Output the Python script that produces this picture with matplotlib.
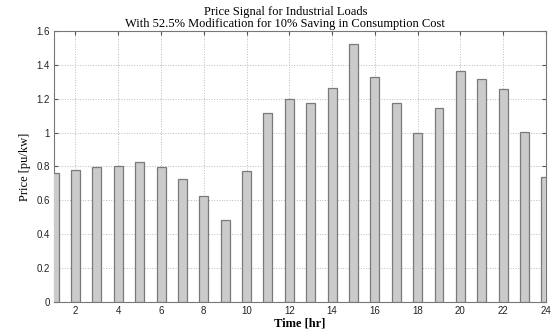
import matplotlib
matplotlib.use("Agg")
import matplotlib.pyplot as plt

hours = list(range(1, 25))
price = [0.76, 0.78, 0.795, 0.805, 0.827, 0.795, 0.725, 0.623, 0.485, 0.775,
         1.115, 1.197, 1.173, 1.262, 1.523, 1.33, 1.173, 0.997, 1.144, 1.366,
         1.318, 1.259, 1.002, 0.74]
xticks = list(range(2, 25, 2))
yticks = [0, 0.2, 0.4, 0.6, 0.8, 1, 1.2, 1.4, 1.6]
ytick_labels = ["0", "0.2", "0.4", "0.6", "0.8", "1", "1.2", "1.4", "1.6"]

fig = plt.figure(figsize=(5.52, 3.3), dpi=100)
ax = fig.add_axes([0.098, 0.085, 0.891, 0.821])

ax.bar(hours, price, width=0.42, color="#cbcbcb", edgecolor="#7a7a7a", linewidth=0.9, zorder=3)

ax.set_xlim(1, 24)
ax.set_ylim(0, 1.6)
ax.set_xticks(xticks)
ax.set_yticks(yticks)
ax.set_yticklabels(ytick_labels)
ax.tick_params(direction="in", length=3, labelsize=7, color="#555555", labelcolor="#222222",
               top=True, right=True, pad=3)
for lbl in ax.get_xticklabels() + ax.get_yticklabels():
    lbl.set_family("Liberation Sans")
ax.grid(True, linestyle=":", color="#bbbbbb", linewidth=0.7, zorder=0)
for s in ax.spines.values():
    s.set_color("#777777")
    s.set_linewidth(0.8)

ax.set_title("Price Signal for Industrial Loads\nWith 52.5% Modification for 10% Saving in Consumption Cost",
             family="Liberation Serif", fontsize=9, linespacing=0.95, pad=3, x=0.47)
ax.set_xlabel("Time [hr]", family="Liberation Serif", fontsize=9, fontweight="bold", labelpad=1)
ax.set_ylabel("Price [pu/kw]", family="Liberation Serif", fontsize=9, labelpad=4)

fig.savefig("out.png", dpi=100)
